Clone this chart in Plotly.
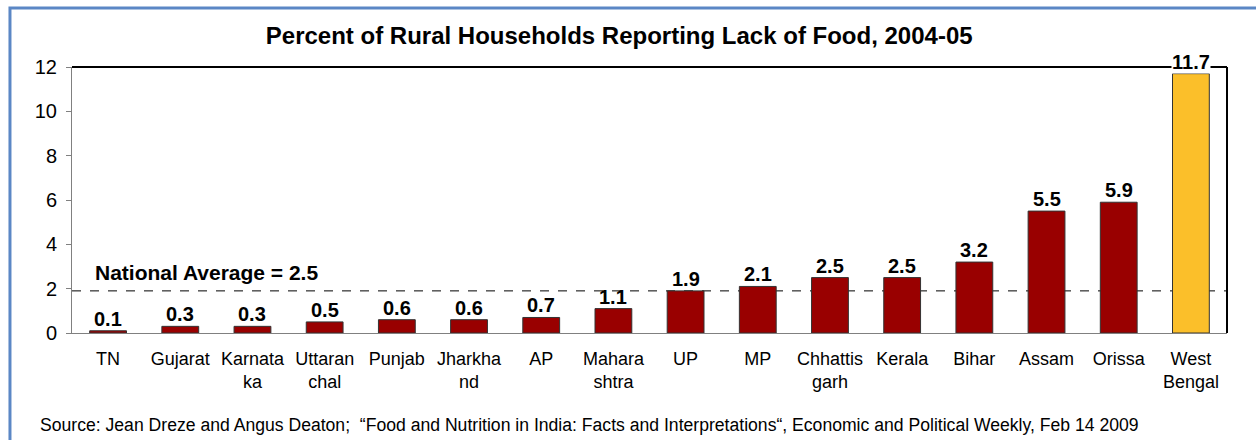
import plotly.graph_objects as go

states = ["TN", "Gujarat", "Karnata<br>ka", "Uttaran<br>chal", "Punjab", "Jharkha<br>nd", "AP",
          "Mahara<br>shtra", "UP", "MP", "Chhattis<br>garh", "Kerala", "Bihar", "Assam",
          "Orissa", "West<br>Bengal"]
values = [0.1, 0.3, 0.3, 0.5, 0.6, 0.6, 0.7, 1.1, 1.9, 2.1, 2.5, 2.5, 3.2, 5.5, 5.9, 11.7]
highlight = "West<br>Bengal"
line_level = 1.9
national_label = "National Average = 2.5"
y_ticks = [0, 2, 4, 6, 8, 10, 12]

RED = "#990000"
YELLOW = "#FBBF2A"
FONT = "Liberation Sans, Arial"
colors = [YELLOW if s == highlight else RED for s in states]

fig = go.Figure()
fig.add_trace(go.Bar(
    x=states, y=values, marker=dict(color=colors, line=dict(color="#333333", width=1)),
    width=0.51, hoverinfo="x+y",
))

for s, v in zip(states, values):
    fig.add_annotation(x=s, y=v, text=f"<b>{v:.1f}</b>", showarrow=False, yanchor="bottom",
                       yshift=0, font=dict(family=FONT, size=20, color="black"),
                       bgcolor="white" if s == highlight else "rgba(0,0,0,0)", borderpad=0)

# dashed reference line
fig.add_shape(type="line", xref="paper", yref="y", x0=0, x1=1, y0=line_level, y1=line_level,
              line=dict(color="black", width=1, dash="dash"), layer="below")
fig.add_annotation(xref="paper", yref="y", x=0.0185, y=line_level, xanchor="left", yanchor="bottom",
                   yshift=5, text=f"<b>{national_label}</b>", showarrow=False,
                   font=dict(family=FONT, size=21, color="black"))

# frame top & right
fig.add_shape(type="line", xref="paper", yref="paper", x0=0, x1=1, y0=1, y1=1,
              line=dict(color="black", width=2), layer="below")
fig.add_shape(type="line", xref="paper", yref="paper", x0=1, x1=1, y0=0, y1=1,
              line=dict(color="black", width=2), layer="below")

# outer border (top and left visible)
fig.add_shape(type="rect", xref="paper", yref="paper", x0=-0.0537, x1=1.05, y0=-0.5, y1=1.2218,
              line=dict(color="#5B87C5", width=3), fillcolor="rgba(0,0,0,0)")

fig.add_annotation(xref="paper", yref="paper", x=-0.0294, y=-0.346, xanchor="left", yanchor="middle",
                   text="Source: Jean Dreze and Angus Deaton;  \u201cFood and Nutrition in India: Facts and Interpretations\u201c, Economic and Political Weekly, Feb 14 2009",
                   showarrow=False, font=dict(family=FONT, size=17.6, color="black"))

fig.update_layout(
    width=1256, height=440,
    margin=dict(l=72, r=29, t=67, b=107),
    paper_bgcolor="white", plot_bgcolor="white",
    title=dict(text="<b>Percent of Rural Households Reporting Lack of Food, 2004-05</b>",
               x=0.493, xanchor="center", y=0.92, yanchor="middle",
               font=dict(family=FONT, size=24, color="black")),
    showlegend=False,
    xaxis=dict(showline=True, linecolor="#808080", linewidth=1, ticks="", showgrid=False,
               tickfont=dict(family=FONT, size=18, color="black"), tickangle=0,
               ticklabelstandoff=9, fixedrange=True),
    yaxis=dict(range=[0, 12], tickvals=y_ticks, showline=True, linecolor="#808080", linewidth=1,
               ticks="outside", ticklen=5, tickcolor="#808080", showgrid=False, zeroline=False,
               ticklabelstandoff=5,
               tickfont=dict(family=FONT, size=20, color="black")),
    bargap=0.49,
)

fig.write_html("out.html", config={"displayModeBar": False},
               post_script="document.body.style.margin='0';")
